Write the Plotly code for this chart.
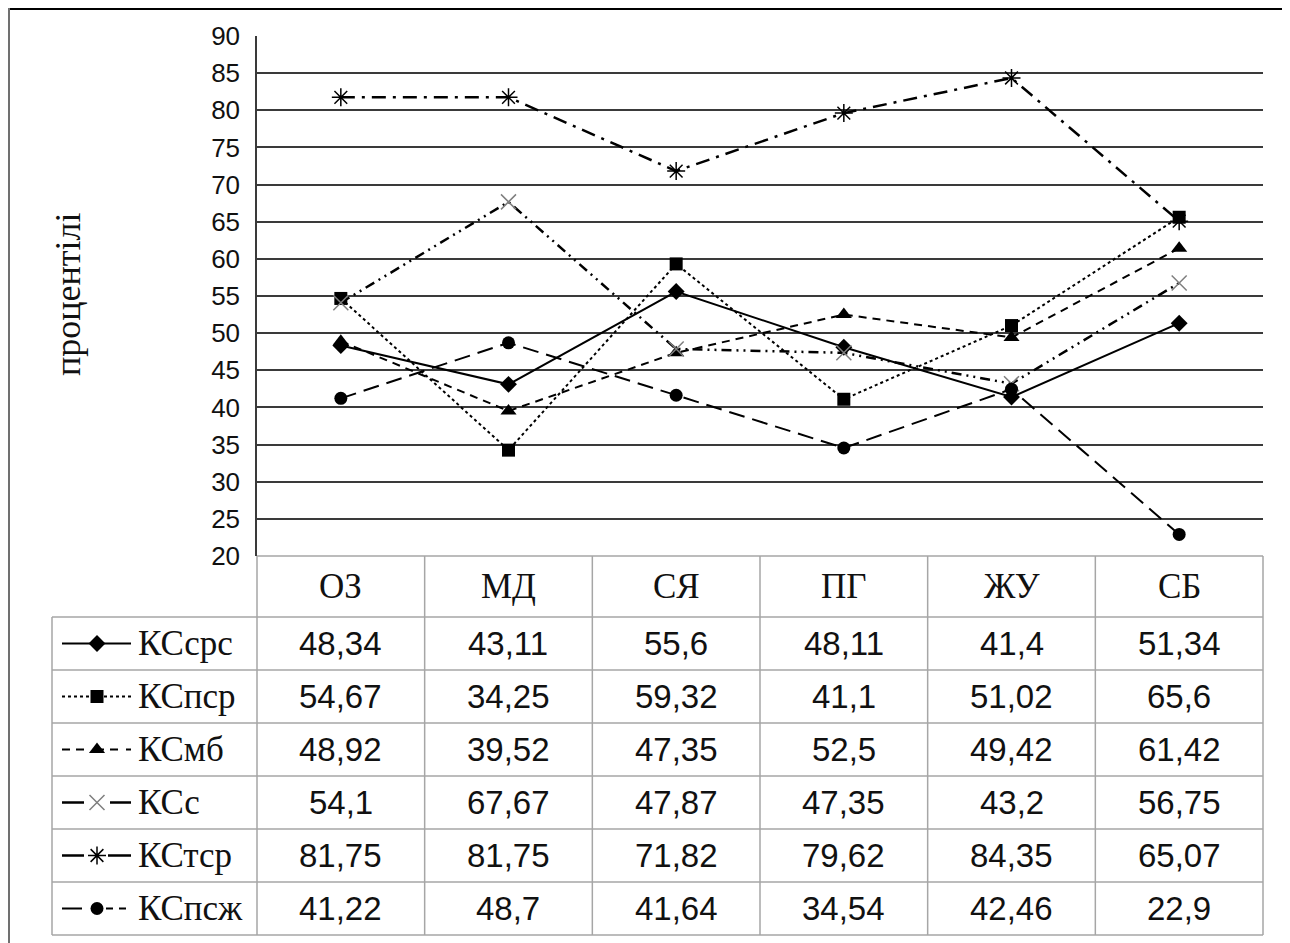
import plotly.graph_objects as go

# ---- data ----
categories = ["ОЗ", "МД", "СЯ", "ПГ", "ЖУ", "СБ"]
series_names = ["КСсрс", "КСпср", "КСмб", "КСс", "КСтср", "КСпсж"]
ks_srs = [48.34, 43.11, 55.6, 48.11, 41.4, 51.34]
ks_psr = [54.67, 34.25, 59.32, 41.1, 51.02, 65.6]
ks_mb = [48.92, 39.52, 47.35, 52.5, 49.42, 61.42]
ks_s = [54.1, 67.67, 47.87, 47.35, 43.2, 56.75]
ks_tsr = [81.75, 81.75, 71.82, 79.62, 84.35, 65.07]
ks_psj = [41.22, 48.7, 41.64, 34.54, 42.46, 22.9]
series_values = [ks_srs, ks_psr, ks_mb, ks_s, ks_tsr, ks_psj]
y_ticks = [20, 25, 30, 35, 40, 45, 50, 55, 60, 65, 70, 75, 80, 85, 90]
y_title = "процентілі"

# ---- styles ----
OFF = 8                      # page body margin
W, H = 1290 - OFF, 943 - OFF
styles = [
    dict(dash="solid", width=2, symbol="diamond", size=13, color="black", mline=0),
    dict(dash="dot", width=2, symbol="square", size=13, color="black", mline=0),
    dict(dash="8px,6px", width=2, symbol="triangle-up", size=14, color="black", mline=0),
    dict(dash="10px,5px,2px,5px,2px,5px", width=2.5, symbol="x-thin-open", size=15, color="#7f7f7f", mline=1.5),
    dict(dash="14px,7px,3px,7px", width=2.5, symbol="asterisk-open", size=15, color="black", mline=1.5),
    dict(dash="16px,8px", width=2, symbol="circle", size=13, color="black", mline=0),
]
# dash used only for the short legend keys in the table
key_dash = ["solid", "dot", "8px,6px,8px,12px,8px,6px,8px",
            "22px,26px,22px", "22px,24px,24px", "20px,24px,7px,6px,7px,5px"]

def px(x):
    return (x - OFF) / W

def py(y):
    return 1 - (y - OFF) / H

plot_l, plot_r, plot_t, plot_b = 257, 1263, 36, 556
col_edges = [plot_l + i * (plot_r - plot_l) / 6 for i in range(7)]
row_edges = [617, 670, 723, 776, 829, 882, 935]
table_left = 52
grid_col = "#a6a6a6"
serif = "Liberation Serif"
sans = "Liberation Sans"

fig = go.Figure()
xs = list(range(len(categories)))
for name, vals, st in zip(series_names, series_values, styles):
    fig.add_trace(go.Scatter(
        x=xs, y=vals, mode="lines+markers", name=name, showlegend=False,
        line=dict(color="black", width=st["width"], dash=st["dash"]),
        marker=dict(symbol=st["symbol"], size=st["size"], color=st["color"],
                    line=dict(color=st["color"], width=st["mline"])),
        xaxis="x", yaxis="y"))

# legend keys inside the table (overlay axis in page-pixel units)
for i, (name, st) in enumerate(zip(series_names, styles)):
    yc = (row_edges[i] + row_edges[i + 1]) / 2
    fig.add_trace(go.Scatter(
        x=[62, 97, 131], y=[yc, yc, yc], mode="lines", showlegend=False,
        line=dict(color="black", width=st["width"], dash=key_dash[i]),
        xaxis="x2", yaxis="y2", hoverinfo="skip"))
    fig.add_trace(go.Scatter(
        x=[97], y=[yc], mode="markers", showlegend=False,
        marker=dict(symbol=st["symbol"], size=st["size"], color=st["color"],
                    line=dict(color=st["color"], width=st["mline"])),
        xaxis="x2", yaxis="y2", hoverinfo="skip"))

shapes = []
def hline(y, x0, x1, color=grid_col, width=1.5):
    shapes.append(dict(type="line", xref="paper", yref="paper", x0=px(x0), x1=px(x1),
                       y0=py(y), y1=py(y), line=dict(color=color, width=width), layer="above"))
def vline(x, y0, y1, color=grid_col, width=1.5):
    shapes.append(dict(type="line", xref="paper", yref="paper", x0=px(x), x1=px(x),
                       y0=py(y0), y1=py(y1), line=dict(color=color, width=width), layer="above"))

hline(plot_b, plot_l, plot_r)
for r in row_edges:
    hline(r, table_left, plot_r)
for c in col_edges:
    vline(c, plot_b, row_edges[-1])
vline(table_left, row_edges[0], row_edges[-1])
# outer frame
hline(9, 8, 1290, color="black", width=2)
vline(9, 8, 943, color="#707070", width=2)

annotations = []
def ann(x, y, text, size, family, xanchor="center", angle=0):
    annotations.append(dict(x=px(x), y=py(y), xref="paper", yref="paper", text=text,
                            xanchor=xanchor, yanchor="middle", showarrow=False, textangle=angle,
                            font=dict(family=family, size=size, color="#111111")))

for i, cat in enumerate(categories):
    cx = (col_edges[i] + col_edges[i + 1]) / 2
    ann(cx, (plot_b + row_edges[0]) / 2, cat, 35, serif)
for r, (name, vals) in enumerate(zip(series_names, series_values)):
    yc = (row_edges[r] + row_edges[r + 1]) / 2
    ann(136, yc, name, 35, serif, xanchor="left")
    for i, v in enumerate(vals):
        cx = (col_edges[i] + col_edges[i + 1]) / 2
        ann(cx, yc, str(v).replace(".", ","), 33, sans)
ann(68, 295, y_title, 36, serif, angle=-90)

fig.update_layout(
    template="none",
    width=W, height=H, margin=dict(l=0, r=0, t=0, b=0, pad=0),
    paper_bgcolor="white", plot_bgcolor="rgba(0,0,0,0)",
    xaxis=dict(domain=[px(plot_l), px(plot_r)], range=[-0.5, 5.5], showgrid=False,
               showticklabels=False, zeroline=False, showline=False, ticks="",
               automargin=False, fixedrange=True),
    yaxis=dict(domain=[py(plot_b), py(plot_t)], range=[20, 90], tickvals=y_ticks,
               showgrid=True, gridcolor="#3a3a3a", gridwidth=1.5, zeroline=False,
               showline=True, linecolor="#3a3a3a", linewidth=1.5,
               ticks="", ticklabelstandoff=10, automargin=False, fixedrange=True,
               tickfont=dict(family=sans, size=26, color="#111111")),
    xaxis2=dict(domain=[0, 1], range=[OFF, 1290], visible=False, anchor="y2", automargin=False),
    yaxis2=dict(domain=[0, 1], range=[943, OFF], visible=False, anchor="x2", automargin=False),
    shapes=shapes, annotations=annotations,
)
fig.write_html("out.html")
